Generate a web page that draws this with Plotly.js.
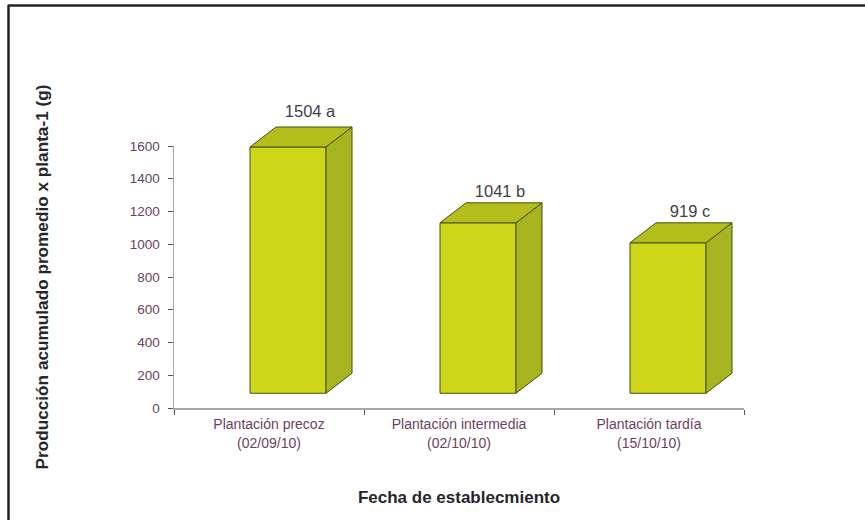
<!DOCTYPE html>
<html><head><meta charset="utf-8">
<script src="https://cdn.plot.ly/plotly-3.0.1.min.js"></script>
<style>html,body{margin:0;padding:0;background:#fff}#c{width:865px;height:520px}</style>
</head><body><div id="c"></div>
<script>
const categories = ["Plantación precoz<br>(02/09/10)", "Plantación intermedia<br>(02/10/10)", "Plantación tardía<br>(15/10/10)"];
const values = [1504, 1041, 919];
const letters = ["a", "b", "c"];
const labelGaps = [86, 62, 62];
const yTicks = [0, 200, 400, 600, 800, 1000, 1200, 1400, 1600];

const W = 865, H = 520;
const L = 174, R = 744, T = 97, B = 408, axisTop = 146;
const yMax = 1600, y2Max = yMax * (B - T) / (B - axisTop);
const base = 90;        // raised floor of the front face, in value units
const depthX = 0.137;   // depth of the box, in category units
const depthY = 122;     // depth of the box, in value units
const half = 0.2;       // half-width of the front face
const shift = 0.1;      // boxes sit right of the category centre

const frontColor = "#ced61a", sideColor = "#a5b41f", topColor = "#b3bd1c", edge = "#4a5010";
const titleColor = "#26262c", tickColor = "#6b3f62";

const traces = [];
traces.push({type:"bar", x:categories, y:values, base:base, width:half*2, offset:shift-half,
  marker:{color:frontColor, line:{color:edge, width:1}}, hoverinfo:"skip", showlegend:false});
values.forEach((v, i) => {
  const l = i + shift - half, r = i + shift + half, top = v + base;
  traces.push({type:"scatter", xaxis:"x2", yaxis:"y2", mode:"lines", fill:"toself", fillcolor:sideColor,
    x:[r, r+depthX, r+depthX, r, r], y:[base, base+depthY, top+depthY, top, base],
    line:{color:edge, width:1}, hoverinfo:"skip", showlegend:false});
  traces.push({type:"scatter", xaxis:"x2", yaxis:"y2", mode:"lines", fill:"toself", fillcolor:topColor,
    x:[l, l+depthX, r+depthX, r, l], y:[top, top+depthY, top+depthY, top, top],
    line:{color:edge, width:1}, hoverinfo:"skip", showlegend:false});
});
traces.push({type:"scatter", xaxis:"x2", yaxis:"y2", mode:"text",
  x:values.map((v,i)=>i+0.216), y:values.map((v,i)=>v+base+depthY+labelGaps[i]),
  text:values.map((v,i)=>v+" "+letters[i]), textfont:{family:"Liberation Sans",size:16.5,color:"#3f3f46"},
  cliponaxis:false, hoverinfo:"skip", showlegend:false});

const layout = {
  width:W, height:H, autosize:false, showlegend:false,
  paper_bgcolor:"#fff", plot_bgcolor:"rgba(0,0,0,0)",
  margin:{l:L, r:W-R, t:T, b:H-B, pad:0},
  font:{family:"Liberation Sans"},
  xaxis:{type:"category", categoryorder:"array", categoryarray:categories, range:[-0.5,2.5],
    anchor:"y", tickson:"boundaries", ticks:"outside", ticklen:5, tickwidth:1, tickcolor:"#555",
    ticklabelstandoff:3,
    showline:true, linecolor:"#a8a8a8", linewidth:1.5, showgrid:false, zeroline:false, fixedrange:true,
    tickfont:{family:"Liberation Sans",size:14,color:tickColor},
    title:{text:"<b>Fecha de establecmiento</b>", standoff:41, font:{family:"Liberation Sans",size:17,color:titleColor}}},
  xaxis2:{overlaying:"x", anchor:"y2", range:[-0.5,2.5], visible:false, fixedrange:true},
  yaxis:{domain:[0,(B-axisTop)/(B-T)], anchor:"x", range:[0,yMax], tickvals:yTicks, ticktext:yTicks.map(String),
    ticks:"outside", ticklen:5, tickwidth:1, tickcolor:"#555", ticklabelstandoff:5,
    showline:true, linecolor:"#a8a8a8", linewidth:1.5, showgrid:false, zeroline:false, fixedrange:true,
    tickfont:{family:"Liberation Sans",size:13.5,color:tickColor},
    title:{text:"<b>Producción acumulado promedio x planta-1 (g)</b>", standoff:76, font:{family:"Liberation Sans",size:17.2,color:titleColor}}},
  yaxis2:{domain:[0,1], anchor:"x2", range:[0,y2Max], visible:false, fixedrange:true},
  shapes:[
    {type:"line", xref:"paper", yref:"paper", x0:(8-L)/(R-L), x1:(W-L)/(R-L), y0:(B-5.5)/(B-T), y1:(B-5.5)/(B-T), line:{color:"#222",width:2.5}},
    {type:"line", xref:"paper", yref:"paper", x0:(8.5-L)/(R-L), x1:(8.5-L)/(R-L), y0:(B-5)/(B-T), y1:(B-H)/(B-T), line:{color:"#222",width:2.5}}
  ]
};
Plotly.newPlot("c", traces, layout, {displayModeBar:false, staticPlot:true});
</script></body></html>
